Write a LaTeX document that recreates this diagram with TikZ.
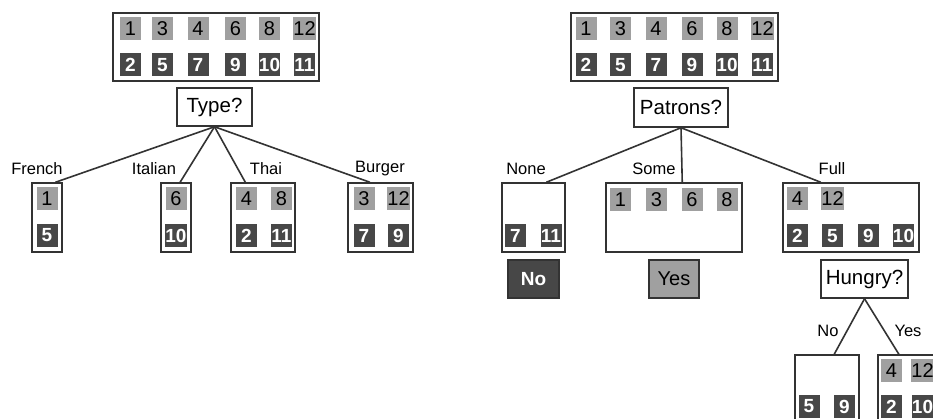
\documentclass[tikz,border=0pt]{standalone}
\usepackage{fontspec}
\setmainfont{Liberation Sans}
\usetikzlibrary{calc}
\definecolor{lgray}{HTML}{A0A0A0}
\definecolor{dgray}{HTML}{474747}
\definecolor{edgec}{HTML}{333333}
\tikzset{
  box/.style={draw=edgec, line width=1.5pt, fill=white, inner sep=0pt, rectangle},
  qbox/.style={box, font=\fontsize{20.5}{24}\selectfont},
  lsq/.style={fill=lgray, minimum width=21, minimum height=23, inner sep=0pt, text=black, font=\fontsize{20}{22}\selectfont},
  dsq/.style={fill=dgray, minimum width=21, minimum height=23, inner sep=0pt, text=white, font=\fontsize{19}{22}\selectfont\bfseries},
  blabel/.style={inner sep=0pt, font=\fontsize{16.5}{18}\selectfont},
  edge/.style={draw=edgec, line width=1.6pt},
}
\begin{document}
\begin{tikzpicture}[x=1pt, y=-1pt]
\useasboundingbox (0,0) rectangle (933,419);
\clip (0,0) rectangle (933,419);
\fill[white] (0,0) rectangle (933,419);

% ---------- left tree ----------
\node[box, minimum width=206, minimum height=68] (ltop) at (216,47) {};
\foreach \n/\x in {1/130.5, 3/162.5, 4/198, 6/235.5, 8/269.5, 12/304.5}
  \node[lsq] (lt\n) at (\x,28.5) {\n};
\foreach \n/\x in {2/130.5, 5/162.5, 7/198, 9/235.5, 10/269.5, 11/304.5}
  \node[dsq] (lt\n) at (\x,65) {\n};

\node[qbox, minimum width=75, minimum height=38] (type) at (214.5,107) {Type?};

\node[box, minimum width=30, minimum height=69] (french) at (47,217.5) {};
\node[box, minimum width=30, minimum height=69] (italian) at (176,217.5) {};
\node[box, minimum width=64, minimum height=69] (thai) at (263,217.5) {};
\node[box, minimum width=65, minimum height=69] (burger) at (380.5,217.5) {};

\draw[edge] (type.south) -- ($(french.north west)!0.77!(french.north east)$);
\draw[edge] (type.south) -- ($(italian.north west)!0.63!(italian.north east)$);
\draw[edge] (type.south) -- ($(thai.north west)!0.23!(thai.north east)$);
\draw[edge] (type.south) -- ($(burger.north west)!0.34!(burger.north east)$);

\node[blabel] (lfrench) at (37,169) {French};
\node[blabel] (litalian) at (154,169) {Italian};
\node[blabel] (lthai) at (266,169) {Thai};
\node[blabel] (lburger) at (380,169) {Burger};

\node[lsq] (f1) at (47,199) {1};
\node[dsq] (f5) at (47,235.5) {5};
\node[lsq] (i6) at (176,199) {6};
\node[dsq] (i10) at (176,235.5) {10};
\node[lsq] (t4) at (246.5,199) {4};
\node[lsq] (t8) at (281.5,199) {8};
\node[dsq] (t2) at (246.5,235.5) {2};
\node[dsq] (t11) at (281.5,235.5) {11};
\node[lsq] (b3) at (364,199) {3};
\node[lsq] (b12) at (398.5,199) {12};
\node[dsq] (b7) at (364,235.5) {7};
\node[dsq] (b9) at (398.5,235.5) {9};

% ---------- right tree ----------
\node[box, minimum width=207, minimum height=68] (rtop) at (674.5,47) {};
\foreach \n/\x in {1/586, 3/620.5, 4/656, 6/692, 8/727, 12/762.5}
  \node[lsq] (rt\n) at (\x,28.5) {\n};
\foreach \n/\x in {2/586, 5/620.5, 7/656, 9/692, 10/727, 11/762.5}
  \node[dsq] (rt\n) at (\x,65) {\n};

\node[qbox, minimum width=94, minimum height=39] (patrons) at (681,107.5) {Patrons?};

\node[box, minimum width=63, minimum height=69] (none) at (533.5,217.5) {};
\node[box, minimum width=136, minimum height=69] (some) at (674,217.5) {};
\node[box, minimum width=136, minimum height=69] (full) at (851,217.5) {};

\draw[edge] (patrons.south) -- ($(none.north west)!0.70!(none.north east)$);
\draw[edge] (patrons.south) -- ($(some.north west)!0.56!(some.north east)$);
\draw[edge] (patrons.south) -- ($(full.north west)!0.28!(full.north east)$);

\node[blabel] (lnone) at (526,169) {None};
\node[blabel] (lsome) at (654,169) {Some};
\node[blabel] (lfull) at (832,169) {Full};

\node[dsq] (n7) at (515.5,236) {7};
\node[dsq] (n11) at (551,236) {11};
\foreach \n/\x in {1/620.5, 3/656.5, 6/692, 8/727}
  \node[lsq] (s\n) at (\x,199.5) {\n};
\node[lsq] (fu4) at (797.5,199) {4};
\node[lsq] (fu12) at (832.5,199) {12};
\foreach \n/\x in {2/797.5, 5/832.5, 9/868.5, 10/903.5}
  \node[dsq] (fu\n) at (\x,236) {\n};

\node[box, fill=dgray, minimum width=51, minimum height=38, text=white, font=\fontsize{19}{22}\selectfont\bfseries] (no) at (533.5,279) {No};
\node[box, fill=lgray, minimum width=50, minimum height=38, font=\fontsize{20}{22}\selectfont] (yes) at (674,279) {Yes};
\node[qbox, minimum width=87, minimum height=38] (hungry) at (864.5,279) {Hungry?};

\node[box, minimum width=64, minimum height=70] (hno) at (827,390) {};
\node[box, minimum width=64, minimum height=70] (hyes) at (910,390) {};

\draw[edge] (hungry.south) -- ($(hno.north west)!0.61!(hno.north east)$);
\draw[edge] (hungry.south) -- ($(hyes.north west)!0.33!(hyes.north east)$);

\node[blabel] (lhno) at (828,331) {No};
\node[blabel] (lhyes) at (908,331) {Yes};

\node[dsq] (hn5) at (809,406.5) {5};
\node[dsq] (hn9) at (844.5,406.5) {9};
\node[lsq] (hy4) at (891.5,370.5) {4};
\node[lsq] (hy12) at (922.5,370.5) {12};
\node[dsq] (hy2) at (891.5,406.5) {2};
\node[dsq] (hy10) at (922.5,406.5) {10};
\end{tikzpicture}
\end{document}
